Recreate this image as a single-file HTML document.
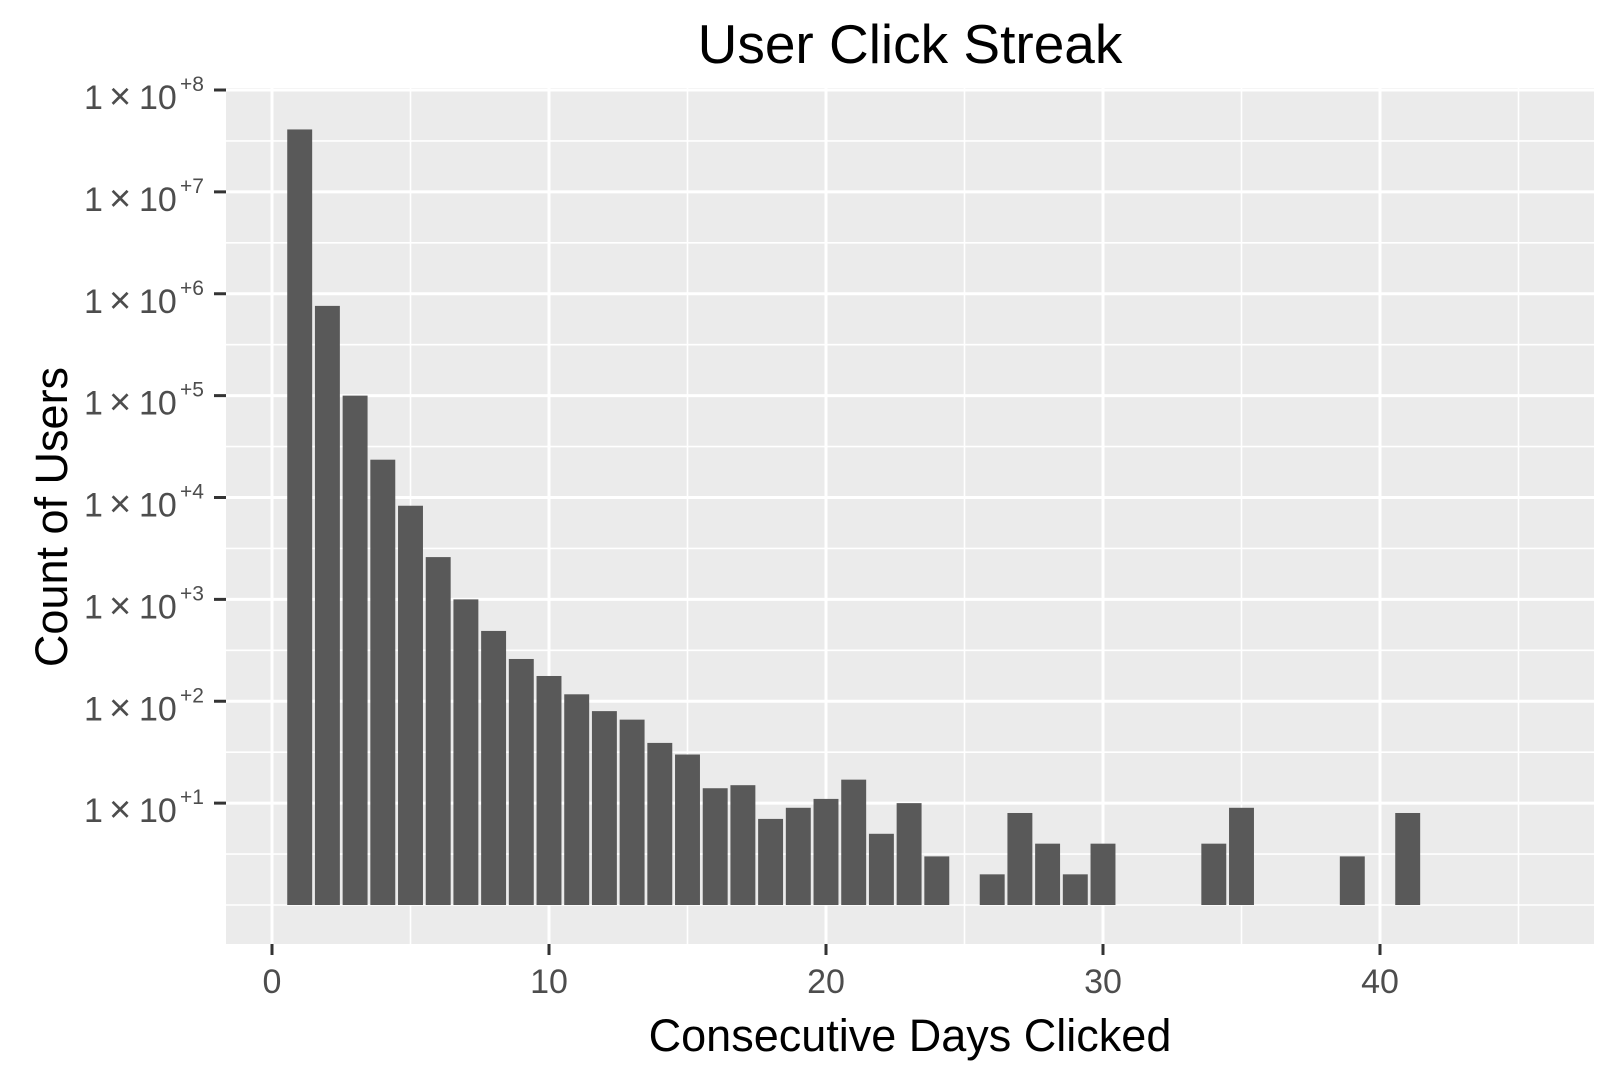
<!DOCTYPE html>
<html><head><meta charset="utf-8"><style>
html,body{margin:0;padding:0;background:#fff;}
svg{display:block;font-family:"Liberation Sans",Arial,sans-serif;}
</style></head><body>
<svg id="chart" width="1615" height="1075" viewBox="0 0 1615 1075" xmlns="http://www.w3.org/2000/svg">
<text x="910" y="63" font-size="55" text-anchor="middle" fill="#000">User Click Streak</text>
<rect x="226" y="88" width="1368" height="856" fill="#ebebeb"/>
<g id="grid"></g>
<g id="bars"></g>
<g id="axes"></g>
<text x="910" y="1051" font-size="45" text-anchor="middle" fill="#000">Consecutive Days Clicked</text>
<text transform="translate(67,517) rotate(-90)" font-size="45" text-anchor="middle" fill="#000">Count of Users</text>
</svg>
<script>
const days = [1,2,3,4,5,6,7,8,9,10,11,12,13,14,15,16,17,18,19,20,21,22,23,24,26,27,28,29,30,34,35,39,41];
const counts = [41000000,760000,100000,23500,8300,2600,1000,490,260,177,117,80,66,39,30,14,15,7,9,11,17,5,10,3,2,8,4,2,4,4,9,3,8];
const xTicks = [0,10,20,30,40];
const xMinor = [5,15,25,35,45];
const yExps = [1,2,3,4,5,6,7,8];
const yMinorExps = [0,0.5,1.5,2.5,3.5,4.5,5.5,6.5,7.5];

const NS = "http://www.w3.org/2000/svg";
const X0 = 272, XU = 27.7;
const Y0 = 905, YD = (905 - 90) / 8;
function xs(v){ return X0 + v * XU; }
function ys(v){ return Y0 - Math.log10(v) * YD; }
function ye(e){ return Y0 - e * YD; }
function mk(tag, attrs, parent){
  const el = document.createElementNS(NS, tag);
  for (const k in attrs) el.setAttribute(k, attrs[k]);
  parent.appendChild(el);
  return el;
}
const grid = document.getElementById('grid');
const bars = document.getElementById('bars');
const axes = document.getElementById('axes');
const PL = 226, PR = 1594, PT = 88, PB = 944;

yMinorExps.forEach(e => {
  const l = mk('line', {x1: PL, x2: PR, y1: ye(e), y2: ye(e), stroke: '#fff', 'stroke-width': 1.6}, grid);
  
  
});
xMinor.forEach(v => {
  const l = mk('line', {x1: xs(v), x2: xs(v), y1: PT, y2: PB, stroke: '#fff', 'stroke-width': 1.6}, grid);
  
  
});
yExps.forEach(e => {
  const l = mk('line', {x1: PL, x2: PR, y1: ye(e), y2: ye(e), stroke: '#fff', 'stroke-width': 3}, grid);
  
  
});
xTicks.forEach(v => {
  const l = mk('line', {x1: xs(v), x2: xs(v), y1: PT, y2: PB, stroke: '#fff', 'stroke-width': 3}, grid);
  
  
});

days.forEach((d, i) => {
  const top = ys(counts[i]);
  const r = mk('rect', {x: xs(d - 0.45), y: top, width: 0.9 * XU, height: Math.max(0, Y0 - top), fill: '#595959'}, bars);
  
  
});

xTicks.forEach(v => {
  const t = mk('line', {x1: xs(v), x2: xs(v), y1: PB, y2: PB + 11, stroke: '#333', 'stroke-width': 3}, axes);
  
  
  const lb = mk('text', {x: xs(v), y: 993, 'font-size': 34, 'text-anchor': 'middle', fill: '#4d4d4d'}, axes);
  
  
  lb.textContent = String(v);
});
yExps.forEach(e => {
  const y = ye(e);
  const t = mk('line', {x1: 214, x2: 226, y1: y, y2: y, stroke: '#333', 'stroke-width': 3}, axes);
  
  
  const g = mk('text', {y: y + 19, 'font-size': 34, fill: '#4d4d4d'}, axes);
  
  
  const a = mk('tspan', {x: 84}, g); a.textContent = '1';
  const b = mk('tspan', {x: 109, 'font-size': 38}, g); b.textContent = '×';
  const c = mk('tspan', {x: 139}, g); c.textContent = '10';
  const s = mk('tspan', {x: 180, y: y + 1, 'font-size': 21}, g); s.textContent = '+' + e;
});
</script>
</body></html>
